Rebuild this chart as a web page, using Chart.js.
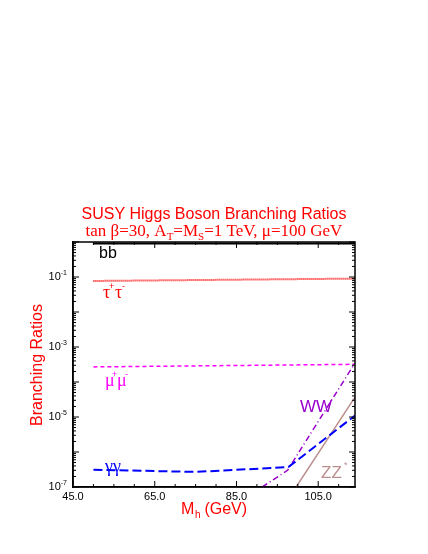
<!DOCTYPE html>
<html><head><meta charset="utf-8">
<script src="https://cdn.jsdelivr.net/npm/chart.js@4"></script>
<style>html,body{margin:0;background:#fff}canvas{display:block}</style>
</head><body>
<div style="width:428px;height:554px"><canvas id="c"></canvas></div>
<script>
// ── Data ─────────────────────────────────────────────────────
const bbX = [50, 114],           bbY = [0.9, 0.9];
const tauX = [50, 114],          tauY = [0.077, 0.09];
const muX = [50, 114],           muY = [2.7e-4, 3.2e-4];
const gamX = [50, 75, 97.7, 114], gamY = [3.1e-7, 2.7e-7, 3.7e-7, 1.1e-5];
const wwX = [91.3, 97.5, 114],   wwY = [1e-7, 3e-7, 3.5e-4];
const zzX = [99.6, 114],         zzY = [1e-7, 3.7e-5];
const xTicks = [45, 65, 85, 105];
const yLabelPow = [-1, -3, -5, -7];

const pts = (xs, ys) => xs.map((x, i) => ({ x, y: ys[i] }));
const line = (label, xs, ys, color, dash, w = 1.5) => ({
  label, data: pts(xs, ys), borderColor: color, borderWidth: w, borderDash: dash,
  pointRadius: 0, tension: 0, fill: false
});

// ── Overlay: ticks, labels, titles ───────────────────────────
const overlay = {
  id: 'overlay',
  afterDraw(chart) {
    const { ctx, chartArea: a, scales: { x, y } } = chart;
    ctx.save();
    ctx.strokeStyle = '#000'; ctx.lineWidth = 1;
    // x ticks
    for (let v = 45; v <= 114; v += 5) {
      const px = x.getPixelForValue(v), len = (v - 45) % 20 === 0 ? 6 : 3;
      ctx.beginPath();
      ctx.moveTo(px, a.bottom); ctx.lineTo(px, a.bottom - len);
      ctx.moveTo(px, a.top); ctx.lineTo(px, a.top + len);
      ctx.stroke();
    }
    // y ticks
    for (let p = -7; p <= 0; p++) {
      for (let m = 1; m <= 9; m++) {
        const v = m * Math.pow(10, p);
        if (v > 1) break;
        const py = y.getPixelForValue(v), len = m === 1 ? 6 : 3;
        ctx.beginPath();
        ctx.moveTo(a.left, py); ctx.lineTo(a.left + len, py);
        ctx.moveTo(a.right, py); ctx.lineTo(a.right - len, py);
        ctx.stroke();
      }
    }
    ctx.fillStyle = '#000';
    ctx.font = '11px "Liberation Sans", Arial';
    ctx.textAlign = 'center'; ctx.textBaseline = 'top';
    xTicks.forEach(v => ctx.fillText(v.toFixed(1), x.getPixelForValue(v), a.bottom + 4));
    yLabelPow.forEach(p => {
      const py = y.getPixelForValue(Math.pow(10, p));
      ctx.textAlign = 'right'; ctx.textBaseline = 'middle';
      ctx.font = '7px "Liberation Sans", Arial';
      ctx.fillText(String(p), a.left - 6, py - 4);
      const w = ctx.measureText(String(p)).width;
      ctx.font = '11px "Liberation Sans", Arial';
      ctx.fillText('10', a.left - 6 - w, py);
    });
    // axis titles
    ctx.fillStyle = '#ff0000';
    ctx.font = '16px "Liberation Sans", Arial';
    ctx.textAlign = 'left'; ctx.textBaseline = 'alphabetic';
    ctx.fillText('M', 181, 514);
    ctx.font = '10px "Liberation Sans", Arial'; ctx.fillText('h', 195, 518);
    ctx.font = '16px "Liberation Sans", Arial'; ctx.fillText(' (GeV)', 200, 514);
    ctx.save();
    ctx.translate(42, 365); ctx.rotate(-Math.PI / 2);
    ctx.textAlign = 'center'; ctx.fillText('Branching Ratios', 0, 0);
    ctx.restore();
    ctx.textAlign = 'center';
    ctx.font = '16px "Liberation Sans", Arial';
    ctx.fillText('SUSY Higgs Boson Branching Ratios', 214, 219);
    // second title line with subscripts
    const seg = [['tan β=30, A', 17], ['T', 11, 4], ['=M', 17], ['S', 11, 4], ['=1 TeV, μ=100 GeV', 17]];
    let tw = 0;
    seg.forEach(s => { ctx.font = s[1] + 'px "Liberation Serif", serif'; tw += ctx.measureText(s[0]).width; });
    let cx = 214 - tw / 2;
    ctx.textAlign = 'left';
    seg.forEach(s => {
      ctx.font = s[1] + 'px "Liberation Serif", serif';
      ctx.fillText(s[0], cx, 236 + (s[2] || 0));
      cx += ctx.measureText(s[0]).width;
    });
    // curve labels
    ctx.fillStyle = '#000';
    ctx.font = '16px "Liberation Sans", Arial';
    ctx.fillText('bb', 99, 258);
    ctx.fillStyle = '#ff0000';
    ctx.font = '18px "Liberation Serif", serif';
    ctx.fillText('τ', 103, 298); ctx.fillText('τ', 115, 298);
    ctx.font = '9px "Liberation Sans", Arial';
    ctx.fillText('+', 109, 289); ctx.fillText('-', 122, 289);
    ctx.fillStyle = '#ff00ff';
    ctx.font = '18px "Liberation Serif", serif';
    ctx.fillText('μ', 105, 386); ctx.fillText('μ', 117, 386);
    ctx.font = '9px "Liberation Sans", Arial';
    ctx.fillText('+', 112, 377); ctx.fillText('-', 125, 377);
    ctx.fillStyle = '#0000ff';
    ctx.font = '18px "Liberation Serif", serif';
    ctx.fillText('γγ', 105, 472);
    ctx.fillStyle = '#9900cc';
    ctx.font = '17px "Liberation Sans", Arial';
    ctx.fillText('WW', 300, 412);
    ctx.fillStyle = '#bc8f8f';
    ctx.fillText('ZZ', 321, 478);
    ctx.font = '9px "Liberation Sans", Arial';
    ctx.fillText('*', 344, 468);
    ctx.restore();
  }
};

new Chart(document.getElementById('c'), {
  type: 'line',
  data: {
    datasets: [
      line('bb', bbX, bbY, '#000000', [], 2),
      line('tautau', tauX, tauY, '#ff0000', [1, 1], 2),
      line('mumu', muX, muY, '#ff00ff', [4, 3]),
      line('gamgam', gamX, gamY, '#0000ff', [9, 4], 2),
      line('WW', wwX, wwY, '#9900cc', [6, 3, 1, 3]),
      line('ZZ', zzX, zzY, '#bc8f8f', []),
    ]
  },
  options: {
    responsive: true, maintainAspectRatio: false, animation: false,
    layout: { padding: { top: 242, right: 73, left: 0, bottom: 0 } },
    plugins: { legend: { display: false }, tooltip: { enabled: false } },
    scales: {
      x: {
        type: 'linear', min: 45, max: 114,
        ticks: { display: false }, grid: { display: false },
        border: { color: '#000', width: 1.5 },
        afterFit: s => { s.height = 67; }
      },
      y: {
        type: 'logarithmic', min: 1e-7, max: 1,
        ticks: { display: false }, grid: { display: false },
        border: { color: '#000', width: 1.5 },
        afterFit: s => { s.width = 73; }
      }
    }
  },
  plugins: [overlay, {
    id: 'frame',
    afterDraw(chart) {
      const { ctx, chartArea: a } = chart;
      ctx.save(); ctx.strokeStyle = '#000'; ctx.lineWidth = 1.5;
      ctx.strokeRect(a.left, a.top, a.right - a.left, a.bottom - a.top);
      ctx.restore();
    }
  }]
});
</script>
</body></html>
